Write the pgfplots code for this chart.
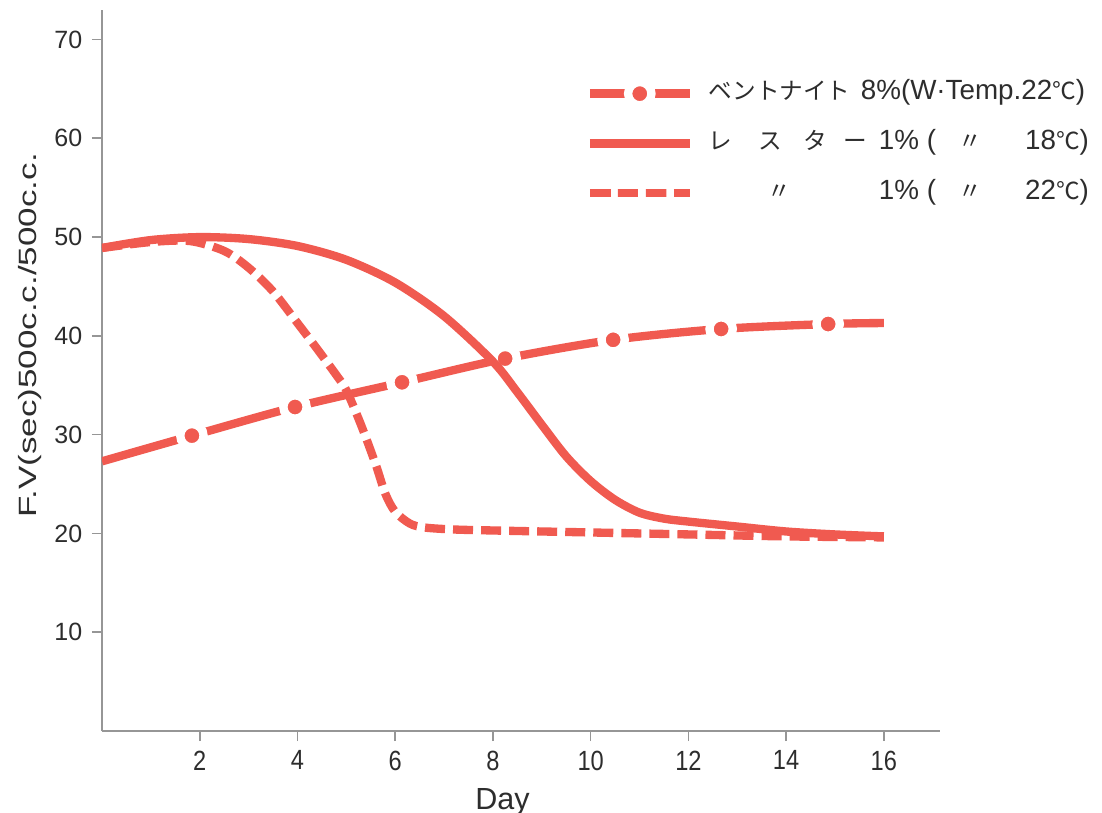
\documentclass[border=0pt]{standalone}
\usepackage{fontspec}
\usepackage{pgfplots}
\pgfplotsset{compat=1.18}
\setmainfont{Liberation Sans}
\newfontfamily\narrow[FakeStretch=0.85]{Liberation Sans}
\newfontfamily\jp{Noto Sans CJK JP}
\definecolor{curve}{RGB}{240,90,80}
\definecolor{txt}{RGB}{45,45,45}
\definecolor{axisgray}{RGB}{150,150,150}
% place text at a fixed offset / right-aligned at an offset
\newcommand\at[2]{\rlap{\hspace*{#1}#2}}
\newcommand\rat[2]{\rlap{\hspace*{#1}\llap{#2}}}
\newcommand\J[1]{{\fontsize{8.5}{8.5}\jp #1}}

\begin{document}
\begin{tikzpicture}
\useasboundingbox (-36.72pt,-29.16pt) rectangle (360pt,263.16pt);
\begin{axis}[
    at={(0,0)}, anchor=south west,
    scale only axis,
    width=301.7pt, height=259.6pt,
    xmin=0, xmax=17.15, ymin=0, ymax=73,
    axis lines=left,
    axis line style={-, draw=axisgray, line width=0.6pt},
    xtick={2,4,...,16}, ytick={10,20,...,70},
    tick align=outside, major tick length=3.6pt,
    tick style={draw=axisgray, line width=0.6pt},
    /pgf/number format/assume math mode=true,
    yticklabel style={font=\fontsize{9}{9}\selectfont, text=txt},
    xticklabel style={font=\narrow\fontsize{10}{10}\selectfont, text=txt},
    xlabel={Day},
    xlabel style={font=\fontsize{11}{11}\selectfont, text=txt,
        at={(axis description cs:0.478,0)}, anchor=north, yshift=-17pt},
    ylabel={\scalebox{1.4}[1]{F.V(sec)500c.c./500c.c.}},
    ylabel style={font=\fontsize{9}{9}\selectfont, text=txt,
        at={(axis description cs:-0.086,0.549)}, anchor=center},
    clip marker paths=true,
    legend cell align=left,
    legend image code/.code={
        \draw[mark repeat=2, mark phase=2, #1, mark indices={2}]
            plot coordinates {(0pt,0pt) (18pt,0pt) (36pt,0pt)};},
    legend style={draw=none, fill=none, inner sep=0pt,
        at={(axis description cs:0.5764,0.901)}, anchor=north west,
        font=\fontsize{10}{10}\selectfont, text=txt,
        nodes={inner sep=0pt, text height=6.5pt, text depth=2pt},
        row sep=9.4pt, column sep=5.4pt},
]
% Bentonite 8%
\addplot[color=curve, line width=3pt, smooth, mark=*, mark indices={2,3,4,5,6,7,8},
    mark options={solid, draw=white, fill=curve, line width=3pt, mark size=4.2pt}]
    coordinates {(0,27.3) (1.84,29.9) (3.95,32.8) (6.14,35.3) (8.25,37.7)
                 (10.46,39.6) (12.67,40.7) (14.86,41.2) (16,41.3)};
% Lester 1% 18C
\addplot[color=curve, line width=3pt, smooth, no marks]
    coordinates {(0,48.9) (1,49.7) (2,50.0) (3,49.8) (4,49.1) (5,47.7) (6,45.4)
                 (7,42.0) (8,37.4) (8.5,34.3) (9,31.0) (9.5,27.8) (10,25.3)
                 (10.5,23.4) (11,22.1) (11.5,21.5) (12,21.2) (13,20.7) (14,20.2)
                 (15,19.9) (16,19.7)};
% Lester 1% 22C
\addplot[color=curve, line width=3pt, smooth, no marks,
    dash pattern=on 7.2pt off 2.9pt]
    coordinates {(0,48.9) (1,49.5) (1.8,49.6) (2.5,48.6) (3,46.9) (3.5,44.5)
                 (4,41.3) (4.4,38.7) (4.8,36.0) (5.0,34.5) (5.3,31.0) (5.6,27.0)
                 (5.8,24.0) (6.0,22.2) (6.3,21.0) (6.6,20.6) (7.2,20.4) (8,20.3)
                 (10,20.1) (12,19.9) (14,19.7) (16,19.6)};
\addlegendentry{\at{0pt}{\J{ベントナイト}}\at{54.7pt}{8\%(W·Temp.22\J{℃})}\hspace*{137pt}}
\addlegendentry{\at{0pt}{\J{レ}}\at{18pt}{\J{ス}}\at{34.2pt}{\J{タ}}\at{48.6pt}{\J{ー}}\at{61.2pt}{1\%}\at{78.5pt}{(}\at{90pt}{\J{〃}}\rat{136.8pt}{18\J{℃})}\hspace*{137pt}}
\addlegendentry{\at{21pt}{\J{〃}}\at{61.2pt}{1\%}\at{78.5pt}{(}\at{90pt}{\J{〃}}\rat{136.8pt}{22\J{℃})}\hspace*{137pt}}
\end{axis}
\end{tikzpicture}
\end{document}
